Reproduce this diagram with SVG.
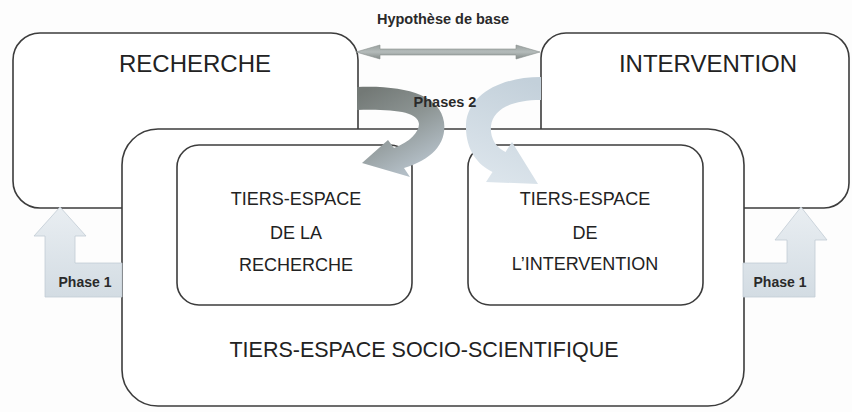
<svg xmlns="http://www.w3.org/2000/svg" width="852" height="412" viewBox="0 0 852 412">
<style>
.box{fill:#fff;stroke:#3c3c3c;stroke-width:1.6}
.big{font-family:"Liberation Sans",Arial,sans-serif;font-size:24px;fill:#222;text-anchor:middle}
.mid{font-family:"Liberation Sans",Arial,sans-serif;font-size:18px;fill:#222;text-anchor:middle}
.lab{font-family:"Liberation Sans",Arial,sans-serif;font-weight:bold;fill:#2a2a2a;text-anchor:middle}
</style>
<defs>
<linearGradient id="gDark" gradientUnits="userSpaceOnUse" x1="357" y1="95" x2="400" y2="175">
<stop offset="0" stop-color="#737976"/>
<stop offset="0.5" stop-color="#8d9594"/>
<stop offset="1" stop-color="#b3bec6"/>
</linearGradient>
<linearGradient id="gLight" gradientUnits="userSpaceOnUse" x1="541" y1="85" x2="500" y2="180">
<stop offset="0" stop-color="#c3d0da"/>
<stop offset="1" stop-color="#dbe4eb"/>
</linearGradient>
<linearGradient id="gPh" x1="0" y1="0" x2="0" y2="1">
<stop offset="0" stop-color="#e9eef2"/>
<stop offset="1" stop-color="#d3dce3"/>
</linearGradient>
<linearGradient id="gTop" x1="0" y1="0" x2="0" y2="1">
<stop offset="0" stop-color="#9aa19f"/>
<stop offset="0.5" stop-color="#b4bbba"/>
<stop offset="1" stop-color="#838a88"/>
</linearGradient>
</defs>
<rect width="852" height="412" fill="#fdfdfd"/>

<g id="recherche">
<rect class="box" x="13" y="33" width="345" height="175" rx="27"/>
<text class="big" x="195" y="72">RECHERCHE</text>
</g>
<g id="intervention">
<rect class="box" x="541" y="33" width="308" height="175" rx="25"/>
<text class="big" x="708" y="72">INTERVENTION</text>
</g>
<g id="tiers-socio">
<rect class="box" x="122" y="129" width="622" height="277" rx="36"/>
<text class="big" style="font-size:21.5px" x="424" y="357">TIERS-ESPACE SOCIO-SCIENTIFIQUE</text>
</g>
<g id="tiers-recherche">
<rect class="box" x="177" y="145" width="235" height="160" rx="22"/>
<text class="mid" x="296" y="205">TIERS-ESPACE</text>
<text class="mid" x="296" y="239">DE LA</text>
<text class="mid" x="296" y="271">RECHERCHE</text>
</g>
<g id="tiers-intervention">
<rect class="box" x="468" y="145" width="235" height="160" rx="22"/>
<text class="mid" x="585" y="205">TIERS-ESPACE</text>
<text class="mid" x="585" y="239">DE</text>
<text class="mid" x="585" y="270">L’INTERVENTION</text>
</g>

<g id="connectors">
<g id="hypothese">
<path d="M356,52 L380,45 L380,49 L516,49 L516,45 L540,52 L516,59 L516,55 L380,55 L380,59 Z" fill="url(#gTop)" stroke="#8a918f" stroke-width="0.6"/>
<text class="lab" style="font-size:14.5px" x="443" y="24">Hypothèse de base</text>
</g>
<g id="phase2">
<path d="M357,87 C405,85 440,95 444,122 C447,145 430,160 404,168 L410,177 L362,163 L388,140 L394,148 C410,142 419,132 419,124 C418,112 395,109 357,110 Z" fill="url(#gDark)"/>
<path d="M541,77 C500,77 468,95 466,124 C465,150 478,165 492.5,172 L486,182 L538,184 L512,142 L505.5,152 C495,147 490,137 491,126 C493,110 510,100 541,100 Z" fill="url(#gLight)"/>
<text class="lab" style="font-size:14.5px" x="445" y="107">Phases 2</text>
</g>
<g id="phase1-left">
<path d="M60,207 L86,236 L75,236 L75,263 L122,263 L122,297 L45,297 L45,236 L34,236 Z" fill="url(#gPh)" stroke="#c2ccd4" stroke-width="0.8"/>
<text class="lab" style="font-size:14px" x="85" y="287">Phase 1</text>
</g>
<g id="phase1-right">
<path d="M801,207 L827,240 L815,240 L815,297 L743,297 L743,263 L787,263 L787,240 L775,240 Z" fill="url(#gPh)" stroke="#c2ccd4" stroke-width="0.8"/>
<text class="lab" style="font-size:14px" x="780" y="287">Phase 1</text>
</g>
</g>
</svg>
